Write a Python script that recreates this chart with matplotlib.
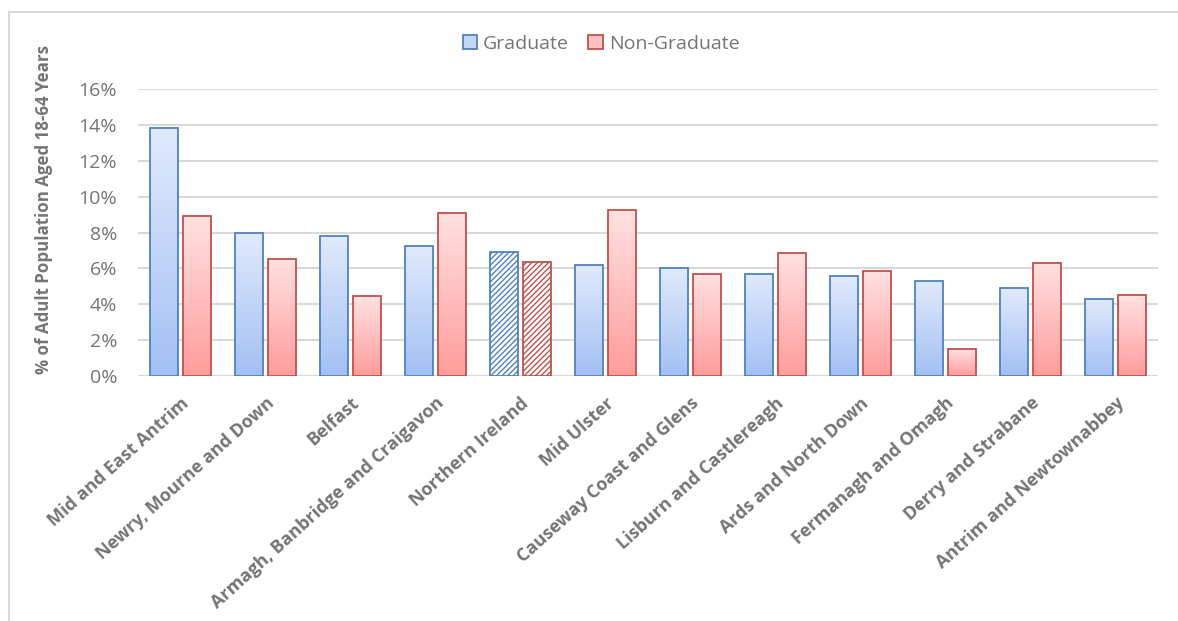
import numpy as np
import matplotlib
matplotlib.use("Agg")
import matplotlib.pyplot as plt
from matplotlib.colors import LinearSegmentedColormap
from matplotlib.patches import Patch
from matplotlib.lines import Line2D

plt.rcParams['font.family'] = ['Open Sans', 'DejaVu Sans']

categories = ["Mid and East Antrim", "Newry, Mourne and Down", "Belfast",
              "Armagh, Banbridge and Craigavon", "Northern Ireland", "Mid Ulster",
              "Causeway Coast and Glens", "Lisburn and Castlereagh", "Ards and North Down",
              "Fermanagh and Omagh", "Derry and Strabane", "Antrim and Newtownabbey"]
graduate = [13.8, 8.0, 7.8, 7.25, 6.9, 6.2, 6.0, 5.7, 5.55, 5.3, 4.9, 4.3]
non_graduate = [8.9, 6.55, 4.45, 9.1, 6.35, 9.25, 5.7, 6.85, 5.85, 1.5, 6.3, 4.5]
series_names = ["Graduate", "Non-Graduate"]
hatched_category = "Northern Ireland"
yticks = [0, 2, 4, 6, 8, 10, 12, 14, 16]

text_col = '#747474'
grid_col = '#d9d9d9'
blue_edge = '#4f81bd'
red_edge = '#c0504d'
blue_cmap = LinearSegmentedColormap.from_list('b', ['#a3c0f4', '#e0eafc'])
red_cmap = LinearSegmentedColormap.from_list('r', ['#ff9c9c', '#ffe1e1'])

fig = plt.figure(figsize=(11.78, 6.21), dpi=100)
ax = fig.add_axes([138/1178, 1-376/621, (1158-138)/1178, (376-89)/621])

x = np.arange(len(categories))
w = 0.32
gap = 0.035
grad = np.linspace(0, 1, 256).reshape(-1, 1)

for i, cat in enumerate(categories):
    for val, off, cmap, ec in [(graduate[i], -(w/2 + gap), blue_cmap, blue_edge),
                               (non_graduate[i], (w/2 + gap), red_cmap, red_edge)]:
        xc = x[i] + off
        if cat == hatched_category:
            ax.bar(xc, val, width=w, facecolor='white', edgecolor=ec,
                   hatch='//////', linewidth=1.3, zorder=3)
        else:
            b = ax.bar(xc, val, width=w, facecolor='none', edgecolor=ec,
                       linewidth=1.3, zorder=4)[0]
            im = ax.imshow(grad, cmap=cmap, origin='lower', aspect='auto',
                           extent=[xc - w/2, xc + w/2, 0, val], zorder=3)
            im.set_clip_path(b)

ax.set_xlim(-0.5, len(categories) - 0.5)
ax.set_ylim(0, 16)
ax.set_yticks(yticks)
ax.set_yticklabels([f"{t}%" for t in yticks], fontsize=14, color=text_col)
ax.set_xticks(x)
ax.set_xticklabels(categories, rotation=42, ha='right', rotation_mode='anchor',
                   fontsize=13, fontweight='bold', color=text_col)
ax.tick_params(axis='y', length=0, pad=15)
ax.tick_params(axis='x', length=0, pad=13)
ax.yaxis.grid(True, color=grid_col, linewidth=1.5, zorder=0)
ax.set_axisbelow(True)
for s in ax.spines.values():
    s.set_visible(False)
ax.axhline(0, color=grid_col, linewidth=1.5, zorder=2)
ax.set_ylabel("% of Adult Population Aged 18-64 Years", fontsize=12.2,
              fontweight='bold', color=text_col)
ax.yaxis.set_label_coords((53-138)/1020, (376-210)/287)

handles = [Patch(facecolor='#c2d6f8', edgecolor=blue_edge, linewidth=1.3),
           Patch(facecolor='#ffc0c0', edgecolor=red_edge, linewidth=1.3)]
leg = fig.legend(handles, series_names, loc='center', bbox_to_anchor=(601/1178, 1-44/621),
                 ncol=2, frameon=False, fontsize=14, handlelength=0.75, handleheight=0.75,
                 handletextpad=0.3, columnspacing=1.0)
for t in leg.get_texts():
    t.set_color(text_col)

fig.add_artist(Line2D([9/1178, 9/1178], [0, 1-12/621], transform=fig.transFigure,
                      color=grid_col, linewidth=1.5))
fig.add_artist(Line2D([9/1178, 1], [1-12/621, 1-12/621], transform=fig.transFigure,
                      color=grid_col, linewidth=1.5))

fig.savefig("out.png", dpi=100)
